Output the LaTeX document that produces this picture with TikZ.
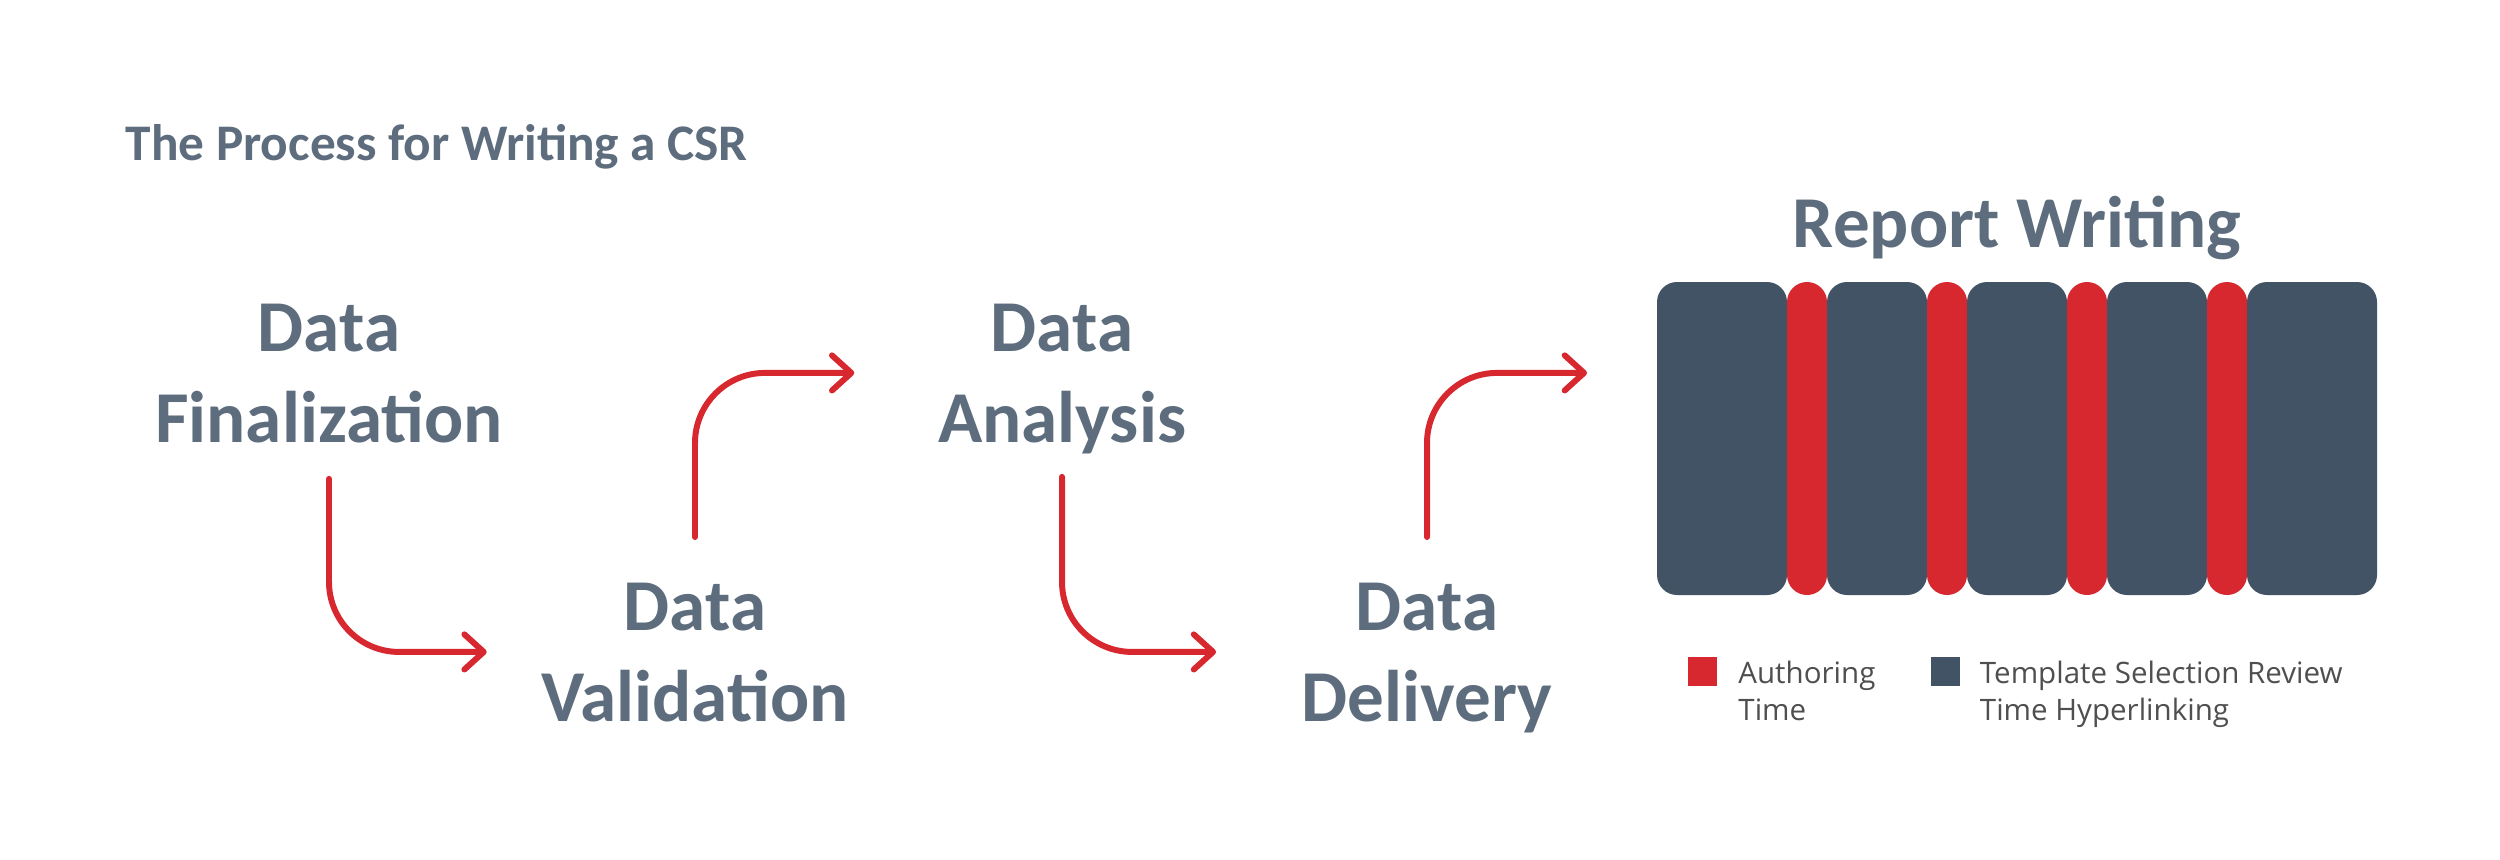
\documentclass[tikz,border=0pt]{standalone}
\usepackage{fontspec}
\setmainfont{Carlito}
\newfontfamily\legendfont{Open Sans}
\usetikzlibrary{positioning,arrows.meta}
\definecolor{labgray}{HTML}{5E6D7D}
\definecolor{bardark}{HTML}{435366}
\definecolor{flowred}{HTML}{D7282F}
\definecolor{leggray}{HTML}{4F4F4F}
\begin{document}
\begin{tikzpicture}[x=1cm,y=1cm,
	lab/.style={inner sep=0pt,text depth=0pt,align=center,text=labgray,font=\fontsize{20.8}{25.9}\selectfont\bfseries},
	flow/.style={draw=flowred,line width=1.7pt,line cap=round,rounded corners=0.7cm,-{Straight Barb[length=5.5pt,width=10pt,round]}},
	darkbar/.style={fill=bardark,rounded corners=0.2cm,minimum height=3.13cm,inner sep=0pt,outer sep=0pt},
	redbar/.style={fill=flowred,rounded corners=0.2cm,minimum height=3.13cm,minimum width=0.4cm,inner sep=0pt,outer sep=0pt},
	legbox/.style={minimum size=0.29cm,inner sep=0pt},
	legtext/.style={inner sep=0pt,align=left,text=leggray,font=\legendfont\fontsize{8.4}{10.5}\selectfont}]
		\useasboundingbox (0,0) rectangle (25,8.59);
		\node[lab,anchor=base west,font=\fontsize{14.6}{17}\selectfont\bfseries] (title) at (1.25,6.99) {The Process for Writing a CSR};
		\node[lab,anchor=north] (fin) at (3.29,5.56) {Data\\Finalization};
		\node[lab,anchor=north] (val) at (6.95,2.77) {Data\\Validation};
		\node[lab,anchor=north] (ana) at (10.62,5.56) {Data\\Analysis};
		\node[lab,anchor=north] (del) at (14.27,2.77) {Data\\Delivery};
		\node[darkbar,minimum width=1.3cm,anchor=west] (b1) at (16.57,4.205) {};
		\node[redbar,right=0cm of b1] (r1) {};
		\node[darkbar,minimum width=1cm,right=0cm of r1] (b2) {};
		\node[redbar,right=0cm of b2] (r2) {};
		\node[darkbar,minimum width=1cm,right=0cm of r2] (b3) {};
		\node[redbar,right=0cm of b3] (r3) {};
		\node[darkbar,minimum width=1cm,right=0cm of r3] (b4) {};
		\node[redbar,right=0cm of b4] (r4) {};
		\node[darkbar,minimum width=1.3cm,right=0cm of r4] (b5) {};
		\node[lab,above=0.34cm of b3] (rw) {Report Writing};
		\coordinate (rwin) at ([xshift=-0.7cm]b1.west |- ana.west);
		\draw[flow,shorten <=0.36cm,shorten >=0.54cm] (fin.south) |- (val.west);
		\draw[flow,shorten <=0.45cm,shorten >=0.83cm] (val.north) |- (ana.west);
		\draw[flow,shorten <=0.34cm,shorten >=0.85cm] (ana.south) |- (del.west);
		\draw[flow,shorten <=0.45cm] (del.north) |- (rwin);
		\node[legbox,fill=flowred] (keya) at (17.025,1.875) {};
		\node[legtext,anchor=north west] (keyatext) at ([xshift=0.2cm,yshift=-0.04cm]keya.north east) {Authoring\\Time};
		\node[legbox,fill=bardark] (keyb) at (19.45,1.875) {};
		\node[legtext,anchor=north west] (keybtext) at ([xshift=0.19cm,yshift=-0.04cm]keyb.north east) {Template Selection Review\\Time Hyperlinking};
\end{tikzpicture}
\end{document}
